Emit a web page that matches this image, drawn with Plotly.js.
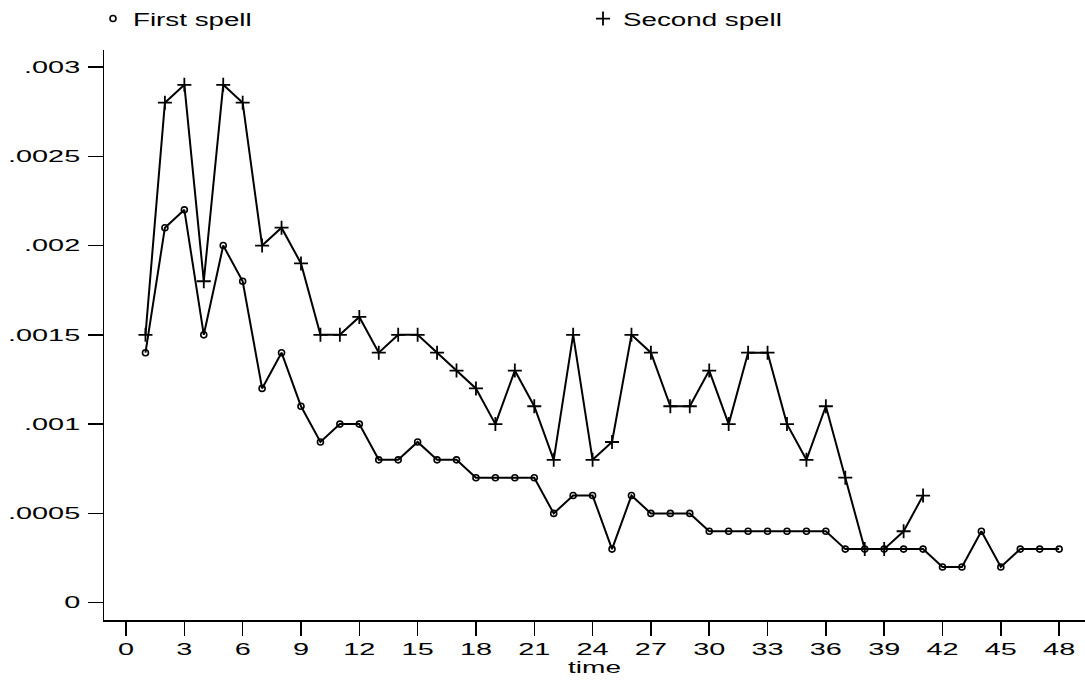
<!DOCTYPE html>
<html><head><meta charset="utf-8">
<script src="https://cdn.plot.ly/plotly-3.0.1.min.js"></script>
<style>html,body{margin:0;padding:0;background:#fff}</style>
</head><body>
<div id="chart" style="width:1085px;height:684px"></div>
<script>
const timeFirst = [1,2,3,4,5,6,7,8,9,10,11,12,13,14,15,16,17,18,19,20,21,22,23,24,25,26,27,28,29,30,31,32,33,34,35,36,37,38,39,40,41,42,43,44,45,46,47,48];
const firstSpell = [.0014,.0021,.0022,.0015,.0020,.0018,.0012,.0014,.0011,.0009,.0010,.0010,.0008,.0008,.0009,.0008,.0008,.0007,.0007,.0007,.0007,.0005,.0006,.0006,.0003,.0006,.0005,.0005,.0005,.0004,.0004,.0004,.0004,.0004,.0004,.0004,.0003,.0003,.0003,.0003,.0003,.0002,.0002,.0004,.0002,.0003,.0003,.0003];
const timeSecond = [1,2,3,4,5,6,7,8,9,10,11,12,13,14,15,16,17,18,19,20,21,22,23,24,25,26,27,28,29,30,31,32,33,34,35,36,37,38,39,40,41];
const secondSpell = [.0015,.0028,.0029,.0018,.0029,.0028,.0020,.0021,.0019,.0015,.0015,.0016,.0014,.0015,.0015,.0014,.0013,.0012,.0010,.0013,.0011,.0008,.0015,.0008,.0009,.0015,.0014,.0011,.0011,.0013,.0010,.0014,.0014,.0010,.0008,.0011,.0007,.0003,.0003,.0004,.0006];
const xTickVals = [0,3,6,9,12,15,18,21,24,27,30,33,36,39,42,45,48];
const yTickVals = [0,.0005,.001,.0015,.002,.0025,.003];
const yTickText = ['0','.0005','.001','.0015','.002','.0025','.003'];

const FONT = 'Liberation Sans, Arial, Helvetica, sans-serif';
const circleMarker = {symbol: 'circle-open', size: 6, color: '#000', line: {width: 1.6, color: '#000'}};
const plusMarker = {symbol: 'cross-thin-open', size: 10, color: '#000', line: {width: 1.8, color: '#000'}};
const traces = [
  {x: timeFirst, y: firstSpell, type: 'scatter', mode: 'lines', line: {color: '#000', width: 2}, showlegend: false, hoverinfo: 'skip'},
  {x: timeSecond, y: secondSpell, type: 'scatter', mode: 'lines', line: {color: '#000', width: 2}, showlegend: false, hoverinfo: 'skip'},
  {x: timeFirst, y: firstSpell, name: 'First spell', type: 'scatter', mode: 'markers', marker: circleMarker},
  {x: timeSecond, y: secondSpell, name: 'Second spell', type: 'scatter', mode: 'markers', marker: plusMarker}
];
const layout = {
  width: 1085, height: 684,
  margin: {l: 104, r: 0, t: 50, b: 64},
  paper_bgcolor: '#fff', plot_bgcolor: '#fff',
  font: {family: FONT, color: '#000', size: 16.5},
  showlegend: true,
  legend: {xref: 'container', yref: 'container', x: 93/1085, y: 1 - 19/684, yanchor: 'middle', xanchor: 'left',
           orientation: 'h', entrywidth: 445, entrywidthmode: 'pixels', traceorder: 'normal',
           font: {family: FONT, size: 18.5, color: '#000'}, bgcolor: 'rgba(0,0,0,0)'},
  xaxis: {range: [-1.133, 49.33], tickvals: xTickVals, ticktext: xTickVals.map(String),
          ticks: 'outside', ticklen: 14, tickwidth: 1.5, tickcolor: '#000',
          showline: true, linewidth: 1.5, linecolor: '#000', showgrid: false, zeroline: false,
          tickfont: {family: FONT, size: 16.5, color: '#000'},
          title: {text: 'time', font: {family: FONT, size: 16.5, color: '#000'}, standoff: 2}},
  yaxis: {range: [-0.0000969, 0.003095], tickvals: yTickVals, ticktext: yTickText,
          ticks: 'outside', ticklen: 15, tickwidth: 1.5, tickcolor: '#000',
          showline: true, linewidth: 1.5, linecolor: '#000', showgrid: false, zeroline: false,
          tickfont: {family: FONT, size: 16.5, color: '#000'}}
};

// Widen text horizontally to mimic the reference's wide glyphs
function stretchText(selector, s, anchor, dx) {
  document.querySelectorAll(selector).forEach(function (t) {
    const cur = t.getAttribute('transform') || '';
    if (t.dataset.stretched && t.dataset.stretched === cur) return;
    const bb = t.getBBox();
    const ax = anchor === 'left' ? bb.x : (anchor === 'right' ? bb.x + bb.width : bb.x + bb.width / 2);
    const tr = cur + ' translate(' + (ax + (dx || 0)) + ',0) scale(' + s + ',1) translate(' + (-ax) + ',0)';
    t.setAttribute('transform', tr);
    t.dataset.stretched = tr;
  });
}
function stretchAll() {
  stretchText('.xtick text', 1.75, 'center', 0);
  stretchText('.ytick text', 1.75, 'right', -4);
  stretchText('text.legendtext', 1.5, 'left', 0);
  stretchText('.g-xtitle text', 1.7, 'center', 0);
  document.querySelectorAll('.scrollbox').forEach(function (e) { e.removeAttribute('clip-path'); });
}

const gd = document.getElementById('chart');
Plotly.newPlot(gd, traces, layout, {displayModeBar: false, staticPlot: true}).then(function () {
  stretchAll();
  gd.on('plotly_afterplot', stretchAll);
  setTimeout(stretchAll, 100);
});
</script>
</body></html>
